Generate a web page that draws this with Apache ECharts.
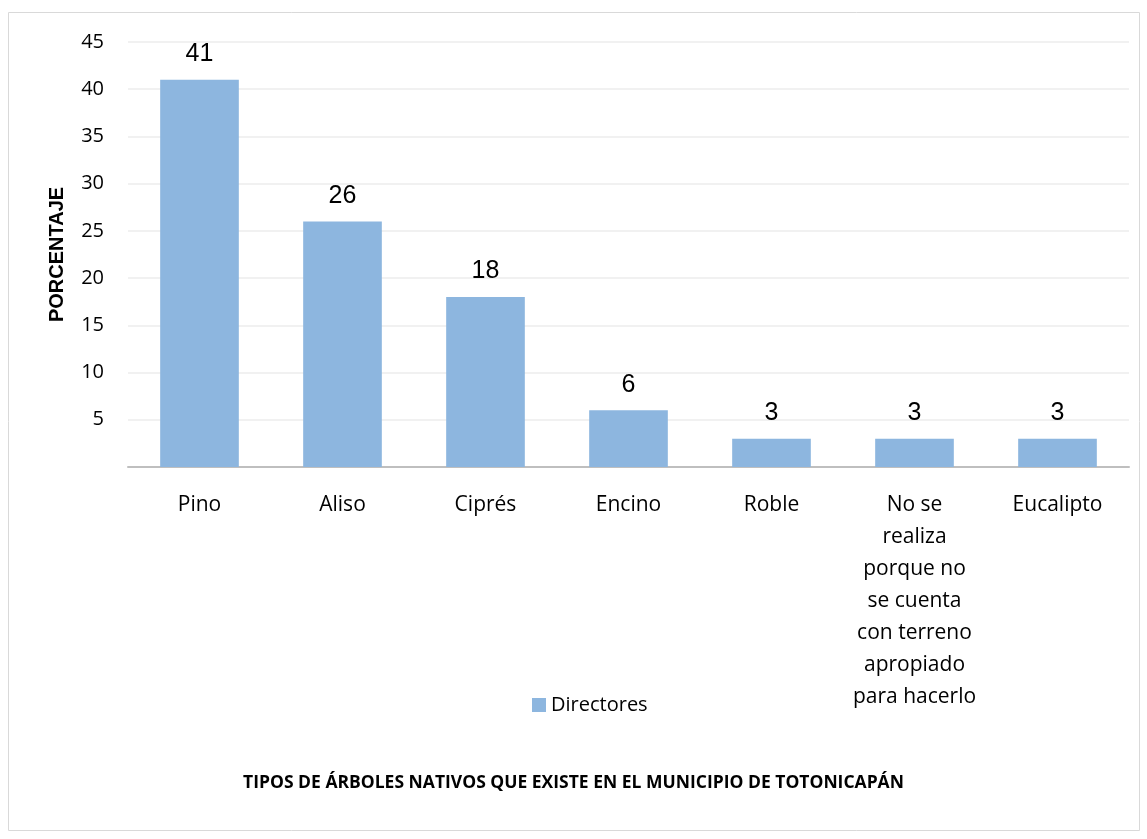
<!DOCTYPE html>
<html><head><meta charset="utf-8">
<script src="https://cdn.jsdelivr.net/npm/echarts@6/dist/echarts.min.js"></script>
<style>html,body{margin:0;padding:0;background:#fff}#c{width:1147px;height:839px}</style>
</head><body><div id="c"></div>
<script>
const categories = ['Pino','Aliso','Ciprés','Encino','Roble','No se\nrealiza\nporque no\nse cuenta\ncon terreno\napropiado\npara hacerlo','Eucalipto'];
const directores = [41, 26, 18, 6, 3, 3, 3];
const yTicks = [0, 5, 10, 15, 20, 25, 30, 35, 40, 45];
const seriesName = 'Directores';
const yAxisTitle = 'PORCENTAJE';
const chartTitle = 'TIPOS DE ÁRBOLES NATIVOS QUE EXISTE EN EL MUNICIPIO DE TOTONICAPÁN';

const chart = echarts.init(document.getElementById('c'));
chart.setOption({
  animation: false,
  graphic: [{type:'rect', shape:{x:8.5,y:12.5,width:1131,height:818}, style:{fill:'none', stroke:'#d9d9d9', lineWidth:1}, silent:true}],
  title: {text: chartTitle, left: 'center', top: 769, textStyle:{fontFamily:'Open Sans', fontWeight:'bold', fontSize:17.5, color:'#000'}},
  legend: {data:[seriesName], left: 527, top: 690, itemWidth: 14, itemHeight: 14, itemGap: 6,
    icon: 'rect', textStyle:{fontFamily:'Open Sans', fontSize:20, color:'#000', padding:[0,0,0,0]}},
  grid: {left: 128, right: 18, top: 42, bottom: 372, containLabel: false},
  xAxis: {type:'category', data: categories,
    axisLine:{lineStyle:{color:'#bfbfbf', width:2}}, axisTick:{show:false},
    axisLabel:{interval:0, margin:22, fontFamily:'Open Sans', fontSize:21, lineHeight:32, color:'#000'}},
  yAxis: {type:'value', min: yTicks[0], max: yTicks[yTicks.length-1], interval: 5,
    name: yAxisTitle, nameLocation:'middle', nameGap: 61, nameRotate: 90,
    nameTextStyle:{fontFamily:'Liberation Sans', fontWeight:'bold', fontSize:20, color:'#000'},
    axisLine:{show:false}, axisTick:{show:false},
    splitLine:{lineStyle:{color:'#ececec', width:1.5}},
    axisLabel:{showMinLabel:false, margin:24, fontFamily:'Open Sans', fontSize:20, color:'#000'}},
  series: [{name: seriesName, type:'bar', data: directores, barWidth:'55%',
    itemStyle:{color:'#8db6df'},
    label:{show:true, position:'top', distance:13, fontFamily:'Liberation Sans', fontSize:25, color:'#000'}}]
});
</script></body></html>
